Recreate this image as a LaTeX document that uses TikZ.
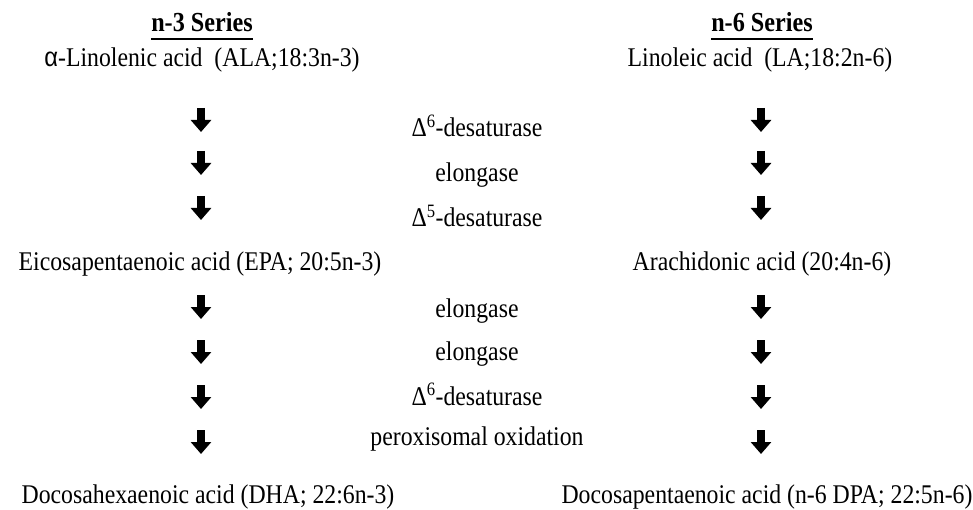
\documentclass[tikz,border=0pt]{standalone}
\usepackage{fontspec}
\setmainfont{Liberation Serif}[FakeStretch=0.88]
\newfontfamily\greeksans{Liberation Sans}[FakeStretch=0.88]
\usetikzlibrary{arrows.meta}

\begin{document}
\begin{tikzpicture}[x=1pt,y=-1pt]

      \useasboundingbox (0,0) rectangle (973,510);

      \begin{scope}[every node/.style={inner sep=0pt,anchor=base,font=\fontsize{27}{32}\selectfont}]
        \node[font=\fontsize{27.5}{32}\selectfont\bfseries] (h3) at (202,32) {n-3 Series};
        \node[font=\fontsize{27.5}{32}\selectfont\bfseries] (h6) at (762,32) {n-6 Series};
        \node (ala)  at (202,67)  {{\greeksans α}-Linolenic acid\ \ (ALA;18:3n-3)};
        \node (la)   at (760,67)  {Linoleic acid\ \ (LA;18:2n-6)};
        \node (epa)  at (200,270) {Eicosapentaenoic acid (EPA; 20:5n-3)};
        \node (ara)  at (762,270) {Arachidonic acid (20:4n-6)};
        \node (dha)  at (208,503) {Docosahexaenoic acid (DHA; 22:6n-3)};
        \node (dpa)  at (767,503) {Docosapentaenoic acid (n-6 DPA; 22:5n-6)};
      \end{scope}

      \begin{scope}[every node/.style={inner sep=0pt,anchor=base,font=\fontsize{27}{32}\selectfont}]
        \node (e1) at (477,137) {Δ\textsuperscript{6}-desaturase};
        \node (e2) at (477,182) {elongase};
        \node (e3) at (477,227) {Δ\textsuperscript{5}-desaturase};
        \node (e4) at (477,317) {elongase};
        \node (e5) at (477,360) {elongase};
        \node (e6) at (477,405) {Δ\textsuperscript{6}-desaturase};
        \node (e7) at (477,445) {peroxisomal oxidation};
      \end{scope}

      % underlines of the two headings
      \draw[line width=1.8pt] ([yshift=-7pt]h3.base west) -- ([yshift=-7pt]h3.base east);
      \draw[line width=1.8pt] ([yshift=-7pt]h6.base west) -- ([yshift=-7pt]h6.base east);

      % block arrows of both series
      \begin{scope}[every path/.style={line width=8pt,-{Triangle[width=20pt,length=12pt]}}]
        \foreach \y [count=\i] in {120,163,208,307,352,397,442} {
          \coordinate (l\i a) at (201,\y-12);
          \coordinate (l\i b) at (201,\y+12);
          \coordinate (r\i a) at (761,\y-12);
          \coordinate (r\i b) at (761,\y+12);
          \draw (l\i a) -- (l\i b);
          \draw (r\i a) -- (r\i b);
        }
      \end{scope}

    \end{tikzpicture}
\end{document}
